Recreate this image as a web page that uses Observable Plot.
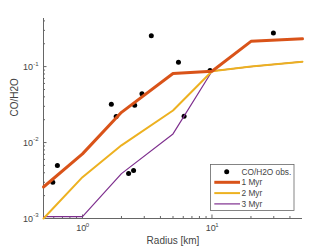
<!DOCTYPE html>
<html><head><meta charset="utf-8">
<script src="https://cdn.jsdelivr.net/npm/d3@7"></script>
<script src="https://cdn.jsdelivr.net/npm/@observablehq/plot@0.6"></script>
<style>html,body{margin:0;padding:0;background:#fff}</style>
</head><body><div id="chart"></div>
<script>
// Observations
const obsRadius = [0.59, 0.64, 1.67, 1.82, 2.53, 2.88, 3.40, 5.51, 9.66, 6.09, 29.8, 2.27, 2.48];
const obsRatio  = [0.0030, 0.0050, 0.032, 0.022, 0.031, 0.044, 0.254, 0.114, 0.0886, 0.0222, 0.277, 0.0039, 0.0043];
// Models
const modelRadius = [0.5, 1, 2, 5, 10, 20, 50];
const myr1 = [0.0026, 0.0071, 0.025, 0.081, 0.087, 0.215, 0.232];
const myr2 = [0.0010, 0.0035, 0.0092, 0.0264, 0.087, 0.100, 0.116];
const myr3 = [0.00106, 0.00106, 0.0039, 0.013, 0.087, 0.100, 0.116];
const seriesNames = ["1 Myr", "2 Myr", "3 Myr"];
const seriesColors = ["#D95319", "#EDB120", "#7E2F8E"];
const seriesWidths = [3, 2, 1.2];
// Ticks
const xMajor = [1, 10];
const xMinor = [0.6, 0.7, 0.8, 0.9, 2, 3, 4, 5, 6, 7, 8, 9, 20, 30, 40];
const yMajor = [0.001, 0.01, 0.1];
const yMinor = [0.002,0.003,0.004,0.005,0.006,0.007,0.008,0.009,0.02,0.03,0.04,0.05,0.06,0.07,0.08,0.09,0.2,0.3,0.4];

const obs = obsRadius.map((r, i) => ({r, v: obsRatio[i]}));
const models = [myr1, myr2, myr3].flatMap((vals, s) =>
  modelRadius.map((r, i) => ({r, v: vals[i], s: seriesNames[s]})));

const W = 333, H = 250, mL = 43, mR = 31, mT = 18, mB = 32;
const fw = W - mL - mR, fh = H - mT - mB;
const axisColor = "#666";
const textColor = "#444";
const exp = d => String(Math.round(Math.log10(d)));

const legend = (index, scales, values, dims) => {
  const g = d3.create("svg:g").attr("font-size", 8.3).attr("fill", textColor).attr("text-anchor", "start");
  const x0 = 210.5, y0 = 164.5;
  g.append("rect").attr("x", x0).attr("y", y0).attr("width", 83.5).attr("height", 46)
    .attr("fill", "#fff").attr("stroke", axisColor).attr("stroke-width", 0.8);
  g.append("circle").attr("cx", x0 + 16.2).attr("cy", y0 + 7.2).attr("r", 2.5).attr("fill", "#000");
  g.append("text").attr("x", x0 + 31).attr("y", y0 + 7.2).attr("dy", "0.35em").attr("text-anchor", "start").text("CO/H2O obs.");
  seriesNames.forEach((n, i) => {
    const y = y0 + 17.8 + i * 10.8;
    g.append("line").attr("x1", x0 + 3.8).attr("x2", x0 + 29.5).attr("y1", y).attr("y2", y)
      .attr("stroke", seriesColors[i]).attr("stroke-width", seriesWidths[i]);
    g.append("text").attr("x", x0 + 31).attr("y", y).attr("dy", "0.35em").attr("text-anchor", "start").text(n);
  });
  return g.node();
};

const chart = Plot.plot({
  width: W, height: H,
  marginLeft: mL, marginRight: mR, marginTop: mT, marginBottom: mB,
  x: {type: "log", domain: [0.5, 50], axis: null},
  y: {type: "log", domain: [0.001, 0.43], axis: null},
  color: {domain: seriesNames, range: seriesColors},
  style: {fontFamily: "'Liberation Sans', Arial, Helvetica, sans-serif", background: "#fff", overflow: "visible"},
  marks: [
    // axes
    Plot.ruleX([0.5], {stroke: axisColor, strokeWidth: 1}),
    Plot.ruleY([0.001], {stroke: axisColor, strokeWidth: 1}),
    Plot.tickX(xMajor, {x: d => d, insetTop: fh - 3.5, stroke: axisColor}),
    Plot.tickX(xMinor, {x: d => d, insetTop: fh - 2, stroke: axisColor}),
    Plot.tickY(yMajor, {y: d => d, insetRight: fw - 3.5, stroke: axisColor}),
    Plot.tickY(yMinor, {y: d => d, insetRight: fw - 2, stroke: axisColor}),
    Plot.text(xMajor, {x: d => d, text: () => "10", frameAnchor: "bottom", dx: -1.3, dy: 12.7, fontSize: 9, fill: textColor}),
    Plot.text(xMajor, {x: d => d, text: exp, frameAnchor: "bottom", dx: 3.3, dy: 8.8, fontSize: 6, textAnchor: "start", fill: textColor}),
    Plot.text(yMajor, {y: d => d, text: () => "10", frameAnchor: "left", dx: -10.5, dy: 1, fontSize: 9, textAnchor: "end", fill: textColor}),
    Plot.text(yMajor, {y: d => d, text: exp, frameAnchor: "left", dx: -10.3, dy: -3, fontSize: 6, textAnchor: "start", fill: textColor}),
    Plot.text(["Radius [km]"], {frameAnchor: "bottom", dy: 25.5, fontSize: 10, fill: textColor}),
    Plot.text(["CO/H2O"], {frameAnchor: "left", rotate: -90, dx: -29, dy: -2, fontSize: 10, fill: textColor}),
    // data
    Plot.dot(obs, {x: "r", y: "v", r: 2.5, fill: "#000"}),
    Plot.line(models.filter(d => d.s === "3 Myr"), {x: "r", y: "v", stroke: seriesColors[2], strokeWidth: seriesWidths[2]}),
    Plot.line(models.filter(d => d.s === "2 Myr"), {x: "r", y: "v", stroke: seriesColors[1], strokeWidth: seriesWidths[1]}),
    Plot.line(models.filter(d => d.s === "1 Myr"), {x: "r", y: "v", stroke: seriesColors[0], strokeWidth: seriesWidths[0]}),
    legend
  ]
});
document.getElementById("chart").appendChild(chart);
</script>
</body></html>
